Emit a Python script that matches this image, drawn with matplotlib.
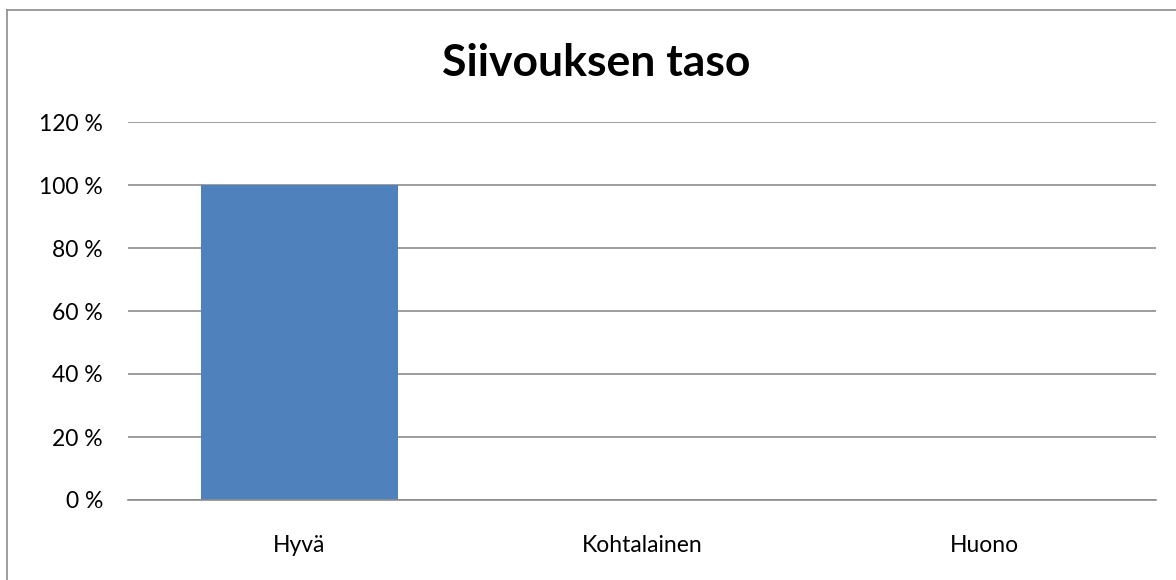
import numpy as np
import matplotlib.pyplot as plt
from matplotlib.lines import Line2D
from matplotlib.ticker import FuncFormatter

plt.rcParams['font.family'] = ['Lato', 'DejaVu Sans']

categories = ['Hyvä', 'Kohtalainen', 'Huono']
values = [100, 0, 0]
yticks = [0, 20, 40, 60, 80, 100, 120]

W, H = 1176, 580
fig = plt.figure(figsize=(W / 100, H / 100), dpi=100)
ax = fig.add_axes([128 / W, (H - 500) / H, (1156 - 128) / W, (500 - 122) / H])

x = np.arange(len(categories))
ax.bar(x, values, width=0.575, color='#4f81bd', zorder=2)

ax.set_xlim(-0.5, len(categories) - 0.5)
ax.set_ylim(0, 120)
ax.set_yticks(yticks)
ax.yaxis.set_major_formatter(FuncFormatter(lambda v, p: '%d %%' % v))
ax.set_xticks(x)
ax.set_xticklabels(categories)
ax.tick_params(axis='both', length=0, labelsize=16.5, colors='black')
ax.tick_params(axis='y', pad=18)
ax.tick_params(axis='x', pad=25)
ax.grid(axis='y', color='#8c8c8c', linewidth=1.2, zorder=0)
for s in ['top', 'right', 'left']:
    ax.spines[s].set_visible(False)
ax.spines['bottom'].set_color('#8c8c8c')
ax.spines['bottom'].set_linewidth(1.2)

fig.text(596 / W, 1 - 63 / H, 'Siivouksen taso', ha='center', va='center',
         fontsize=32, fontweight='bold')

# outer chart frame (top and left edges visible)
fig.add_artist(Line2D([7 / W, 1], [1 - 10 / H, 1 - 10 / H], color='#8c8c8c', lw=1.2))
fig.add_artist(Line2D([7 / W, 7 / W], [0, 1 - 10 / H], color='#8c8c8c', lw=1.2))

fig.savefig('out.png', dpi=100)
